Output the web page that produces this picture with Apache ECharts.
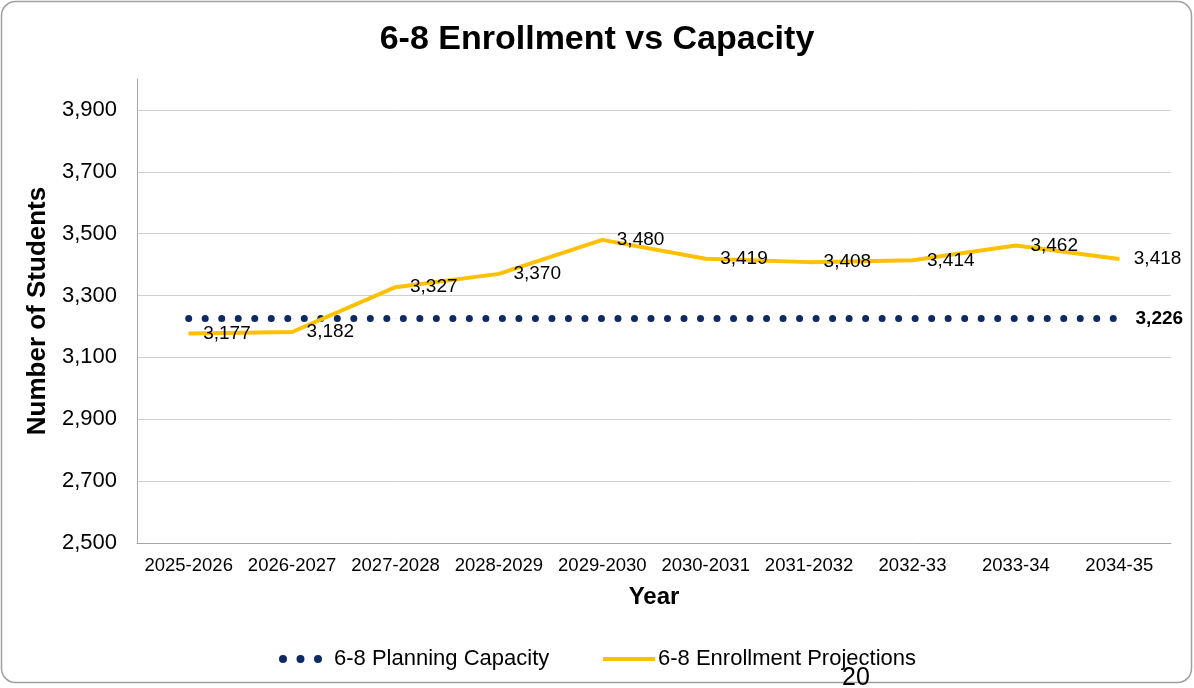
<!DOCTYPE html>
<html>
<head>
<meta charset="utf-8">
<script src="https://cdn.jsdelivr.net/npm/echarts@6/dist/echarts.min.js"></script>
<style>
html,body{margin:0;padding:0;background:#fff;}
#chart{width:1194px;height:688px;}
</style>
</head>
<body>
<div id="chart"></div>
<script>
const categories = ['2025-2026','2026-2027','2027-2028','2028-2029','2029-2030','2030-2031','2031-2032','2032-33','2033-34','2034-35'];
const capacity = [3226,3226,3226,3226,3226,3226,3226,3226,3226,3226];
const enrollment = [3177,3182,3327,3370,3480,3419,3408,3414,3462,3418];
const yTicks = [2500,2700,2900,3100,3300,3500,3700,3900];

const FONT = 'Arial, "Liberation Sans", sans-serif';
const fmt = v => Number(v).toLocaleString('en-US');

const chart = echarts.init(document.getElementById('chart'));
const capData = capacity.map((v, i) => i === capacity.length - 1
  ? { value: v, label: { show: true } }
  : v);

chart.setOption({
  animation: false,
  backgroundColor: '#fff',
  title: {
    text: '6-8 Enrollment vs Capacity',
    left: 'center',
    top: 18,
    textStyle: { fontFamily: FONT, fontSize: 34, fontWeight: 'bold', color: '#000' }
  },
  grid: { left: 137, right: 23, top: 79, bottom: 145, containLabel: false },
  legend: [{
    data: ['6-8 Planning Capacity'],
    left: 274, top: 643,
    icon: 'path://M0,4a4,4 0 1,0 8,0a4,4 0 1,0 -8,0M17.5,4a4,4 0 1,0 8,0a4,4 0 1,0 -8,0M35,4a4,4 0 1,0 8,0a4,4 0 1,0 -8,0Z',
    itemWidth: 43, itemHeight: 8,
    itemStyle: { color: '#0d2a63' },
    textStyle: { fontFamily: FONT, fontSize: 22, color: '#000', padding: [0,0,0,7] }
  }, {
    data: ['6-8 Enrollment Projections'],
    left: 598, top: 643,
    icon: 'rect',
    itemWidth: 52, itemHeight: 4,
    itemStyle: { color: '#FFC000' },
    textStyle: { fontFamily: FONT, fontSize: 22, color: '#000', padding: [0,0,0,-2] }
  }],
  xAxis: {
    type: 'category',
    data: categories,
    boundaryGap: true,
    name: 'Year',
    nameLocation: 'middle',
    nameGap: 42,
    nameTextStyle: { fontFamily: FONT, fontSize: 24, fontWeight: 'bold', color: '#000' },
    axisLine: { lineStyle: { color: '#a6a6a6', width: 1 } },
    axisTick: { show: false },
    axisLabel: { fontFamily: FONT, fontSize: 18.5, color: '#000', margin: 13, interval: 0 }
  },
  yAxis: {
    type: 'value',
    min: 2500, max: 4000, interval: 100,
    name: 'Number of Students',
    nameLocation: 'middle',
    nameGap: 82,
    nameTextStyle: { fontFamily: FONT, fontSize: 26, fontWeight: 'bold', color: '#000' },
    axisLine: { show: true, lineStyle: { color: '#a6a6a6', width: 1 } },
    axisTick: { show: false },
    axisLabel: {
      fontFamily: FONT, fontSize: 22, color: '#000', margin: 20,
      formatter: v => yTicks.indexOf(v) >= 0 ? fmt(v) : ''
    },
    splitLine: { show: true, lineStyle: { color: ['#d0d0d0', 'rgba(0,0,0,0)'], width: 1 } }
  },
  series: [{
    name: '6-8 Planning Capacity',
    type: 'line',
    data: capData,
    symbol: 'circle',
    symbolSize: 0.5,
    showSymbol: true,
    itemStyle: { color: '#0d2a63' },
    lineStyle: { color: '#0d2a63', width: 7, type: [0.01, 16.5], cap: 'round' },
    label: {
      show: false, position: 'right', distance: 16,
      fontFamily: FONT, fontSize: 19, fontWeight: 'bold', color: '#000',
      formatter: p => fmt(p.value)
    },
    z: 2
  }, {
    name: '6-8 Enrollment Projections',
    type: 'line',
    data: enrollment,
    symbol: 'circle',
    symbolSize: 1,
    showSymbol: true,
    itemStyle: { color: '#FFC000' },
    lineStyle: { color: '#FFC000', width: 4 },
    label: {
      show: true, position: 'right', distance: 14,
      fontFamily: FONT, fontSize: 19, color: '#000',
      formatter: p => fmt(p.value)
    },
    z: 3
  }],
  graphic: [{
    type: 'rect',
    shape: { x: 1.5, y: 1.5, width: 1190, height: 681, r: 14 },
    style: { fill: 'none', stroke: '#a0a0a0', lineWidth: 1.5 },
    z: -1, silent: true
  }, {
    type: 'text',
    left: 842, top: 666,
    style: { text: '20', font: '25px Arial, "Liberation Sans", sans-serif', fill: '#000' },
    z: 10
  }]
});
</script>
</body>
</html>
